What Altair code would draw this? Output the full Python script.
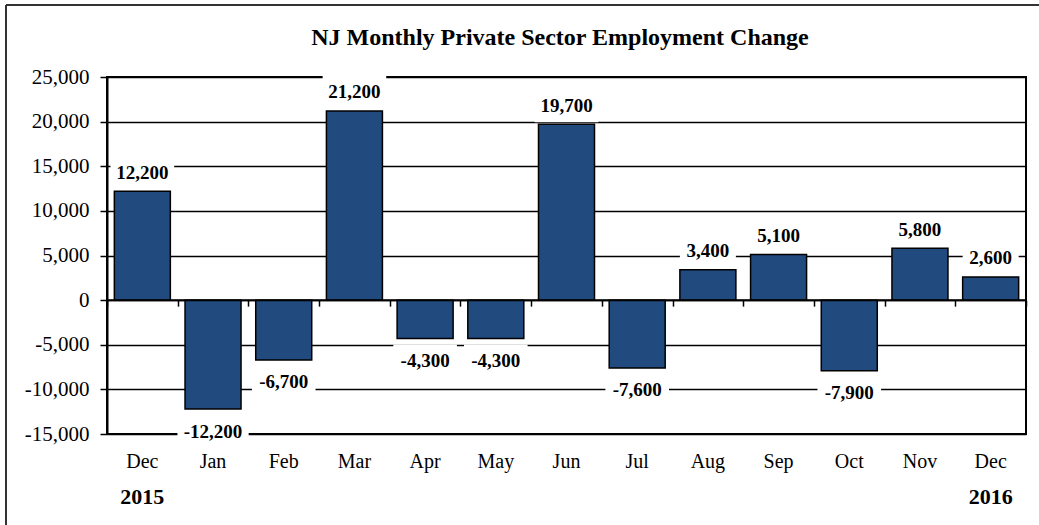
import altair as alt
import pandas as pd

# ---- data ----
months = ["Dec", "Jan", "Feb", "Mar", "Apr", "May", "Jun",
          "Jul", "Aug", "Sep", "Oct", "Nov", "Dec"]
years = ["2015"] + ["2016"] * 12
changes = [12200, -12200, -6700, 21200, -4300, -4300, 19700,
           -7600, 3400, 5100, -7900, 5800, 2600]
y_ticks = [-15000, -10000, -5000, 0, 5000, 10000, 15000, 20000, 25000]
year_labels = ["2015", "2016"]
year_keys = ["Dec 2015", "Dec 2016"]
TITLE = "NJ Monthly Private Sector Employment Change"

keys = [f"{m} {y}" for m, y in zip(months, years)]
df = pd.DataFrame({"key": keys, "value": changes})
ydf = pd.DataFrame({"key": year_keys, "year": year_labels})
one = pd.DataFrame({"a": [0]})

W, H = 919, 357
SERIF = "Liberation Serif"
BAR = "#214A7E"

x_scale = alt.Scale(paddingInner=0, paddingOuter=0)
y_scale = alt.Scale(domain=[-15000, 25000], nice=False)

x_main = alt.X(
    "key:N", sort=keys, scale=x_scale, title=None,
    axis=alt.Axis(labelExpr="split(datum.label, ' ')[0]", domain=False,
                  ticks=False, tickSize=0, labelPadding=17, labelAngle=0,
                  labelFont=SERIF, labelFontSize=20, labelColor="black",
                  grid=False),
)
x_none = alt.X("key:N", sort=keys, scale=x_scale, axis=None)
y_main = alt.Y(
    "value:Q", scale=y_scale, title=None,
    axis=alt.Axis(values=y_ticks,
                  labelExpr="replace(format(datum.value, ','), '\u2212', '-')",
                  grid=True, gridColor="black",
                  gridWidth=1.5, gridOpacity=1, domain=True,
                  domainColor="black", domainWidth=2, ticks=True,
                  tickColor="black", tickWidth=1.5, tickSize=7,
                  labelPadding=11, labelFont=SERIF, labelFontSize=21,
                  labelColor="black"),
)
y_none = alt.Y("value:Q", scale=y_scale, axis=None)

base = alt.Chart(df)

bars = base.mark_bar(width=56, color=BAR, stroke="black",
                     strokeWidth=1.5).encode(x=x_main, y=y_main)

zero = alt.Chart(one).mark_rule(color="black", strokeWidth=2).encode(
    y=alt.Y(datum=0, scale=y_scale, axis=None))

zero_ticks = base.mark_point(opacity=0).encode(
    x=alt.X("key:N", sort=keys, scale=x_scale, title=None,
            axis=alt.Axis(orient="bottom", offset=-(H * 15000 / 40000),
                          labels=False, ticks=True, tickBand="extent",
                          tickSize=6, tickColor="black", tickWidth=1.5,
                          domain=False, grid=False)),
    y=y_none,
)


def label_layers(cond, offset):
    src = base.transform_filter(cond).transform_calculate(
        lbl="replace(format(datum.value, ','), '\u2212', '-')"
    ).transform_calculate(
        hw="3.8 * length(datum.lbl) + 9"
    ).transform_calculate(
        boxpath="'M' + (-datum.hw) + ',-16.5L' + datum.hw + ',-16.5L' + datum.hw + ',16.5L' + (-datum.hw) + ',16.5Z'"
    )
    box = src.mark_point(filled=True, color="white", opacity=1, size=4,
                         strokeWidth=0, yOffset=offset).encode(
        x=x_none, y=y_none, shape=alt.Shape("boxpath:N", scale=None))
    txt = src.mark_text(font=SERIF, fontSize=19, fontWeight="bold",
                        color="black", baseline="middle", align="center",
                        yOffset=offset).encode(
        x=x_none, y=y_none, text="lbl:N")
    return box, txt


pbox, ptxt = label_layers("datum.value > 0", -18.5)
nbox, ntxt = label_layers("datum.value < 0", 22.5)

year_text = alt.Chart(ydf).mark_text(
    font=SERIF, fontSize=22, fontWeight="bold", color="black",
    baseline="alphabetic", align="center").encode(
    x=x_none, y=alt.value(427), text="year:N")

title_text = alt.Chart(one).mark_text(
    text=TITLE, font=SERIF, fontSize=24, fontWeight="bold", color="black",
    baseline="alphabetic", align="center").encode(
    x=alt.value(453), y=alt.value(-32))

border_v = alt.Chart(one).mark_rule(color="#333333", strokeWidth=2).encode(
    x=alt.value(-101), y=alt.value(-72), y2=alt.value(460))
border_h = alt.Chart(one).mark_rule(color="#333333", strokeWidth=2).encode(
    x=alt.value(-101), x2=alt.value(940), y=alt.value(-72))

chart = alt.layer(
    bars, zero, zero_ticks, pbox, nbox, ptxt, ntxt, year_text, title_text,
    border_v, border_h
).resolve_axis(x="independent", y="independent").properties(
    width=W, height=H,
    autosize=alt.AutoSizeParams(type="none"),
    padding={"left": 107, "top": 77, "right": 13, "bottom": 91},
    background="white",
).configure_view(stroke="black", strokeWidth=2)

chart.save("out.html", embed_options={"renderer": "svg", "actions": False})
